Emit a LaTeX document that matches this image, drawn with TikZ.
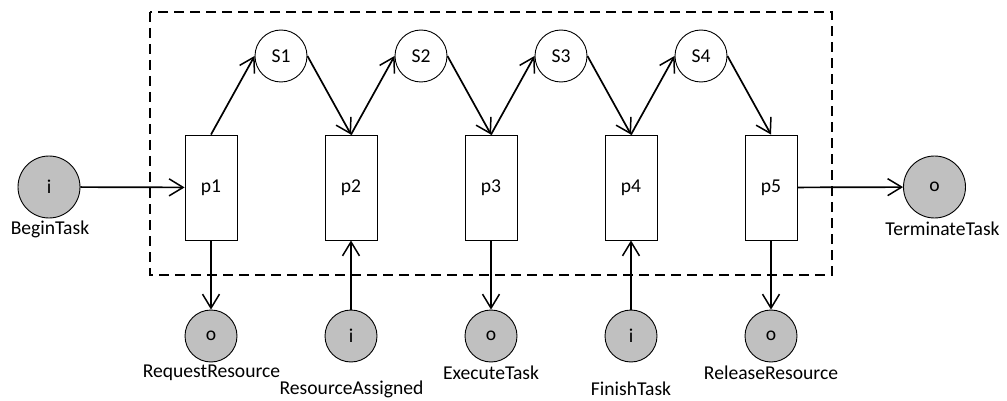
\documentclass[tikz,border=0pt]{standalone}
\usepackage{fontspec}
\setmainfont{Carlito}
\usetikzlibrary{arrows.meta}
\definecolor{placegray}{RGB}{192,192,192}
\begin{document}
\begin{tikzpicture}[x=1pt,y=-1pt,
  font=\fontsize{19.6}{22}\selectfont,
  trans/.style={draw,line width=0.9pt,minimum width=52pt,minimum height=105pt,inner sep=0pt},
  state/.style={draw,circle,line width=0.9pt,minimum size=52pt,inner sep=0pt},
  iobig/.style={draw,circle,fill=placegray,line width=0.9pt,minimum size=62pt,inner sep=0pt},
  iosmall/.style={draw,circle,fill=placegray,line width=0.9pt,minimum size=52pt,inner sep=0pt},
  flow/.style={line width=1.7pt,-{Straight Barb[length=14pt,width=17pt,line width=1.5pt]}},
  frame/.style={draw,line width=1.7pt,dash pattern=on 10pt off 6pt},
  lbl/.style={inner sep=0pt}]
\useasboundingbox (0,0) rectangle (1007,401);

% component boundary
\draw[frame] (150,12) rectangle (832,275);

% transitions
\node[trans] (p1) at (211,187.5) {p1};
\node[trans] (p2) at (351,187.5) {p2};
\node[trans] (p3) at (491,187.5) {p3};
\node[trans] (p4) at (631,187.5) {p4};
\node[trans] (p5) at (771,187.5) {p5};

% internal states
\node[state] (s1) at (281,56) {S1};
\node[state] (s2) at (421,56) {S2};
\node[state] (s3) at (561,56) {S3};
\node[state] (s4) at (701,56) {S4};

% interface places
\node[iobig] (begin) at (49,187) {i};
\node[iobig] (term) at (934.5,187) {o};
\node[iosmall] (req) at (211,336) {o};
\node[iosmall] (asg) at (351,336) {i};
\node[iosmall] (exe) at (491,336) {o};
\node[iosmall] (fin) at (631,336) {i};
\node[iosmall] (rel) at (771,336) {o};

% place labels
\node[lbl] (lbegin) at (50,229) {BeginTask};
\node[lbl] (lterm) at (942.5,229) {TerminateTask};
\node[lbl] (lreq) at (211.5,373) {RequestResource};
\node[lbl] (lasg) at (351.5,389) {ResourceAssigned};
\node[lbl] (lexe) at (491,373) {ExecuteTask};
\node[lbl] (lfin) at (631,389) {FinishTask};
\node[lbl] (lrel) at (771,373) {ReleaseResource};

% control flow
\draw[flow] (begin) -- (p1);
\draw[flow] (p1.north) -- (s1.west);
\draw[flow] (s1.east) -- (p2.north);
\draw[flow] (p2.north) -- (s2.west);
\draw[flow] (s2.east) -- (p3.north);
\draw[flow] (p3.north) -- (s3.west);
\draw[flow] (s3.east) -- (p4.north);
\draw[flow] (p4.north) -- (s4.west);
\draw[flow] (s4.east) -- (p5.north);
\draw[flow] (p5) -- (term);

% resource and task interfaces
\draw[flow] (p1) -- (req);
\draw[flow] (asg) -- (p2);
\draw[flow] (p3) -- (exe);
\draw[flow] (fin) -- (p4);
\draw[flow] (p5) -- (rel);
\end{tikzpicture}
\end{document}
